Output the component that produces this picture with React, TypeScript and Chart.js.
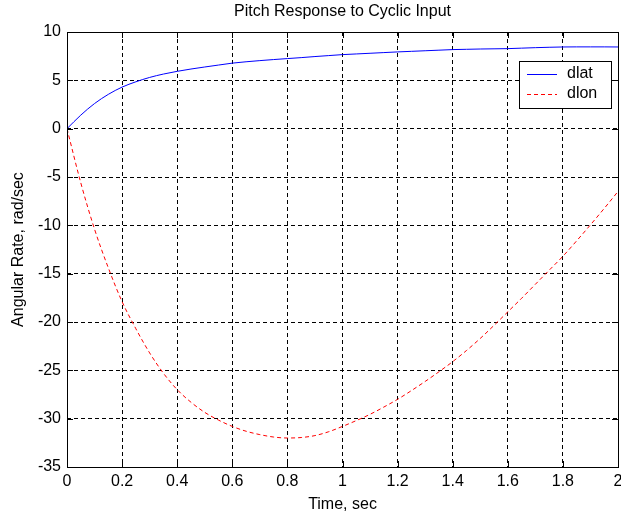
import { useEffect, useRef } from 'react';
import { Chart, registerables } from 'chart.js';

Chart.register(...registerables);

// Time samples (sec)
const timeSec = [
  0, 0.05, 0.1, 0.15, 0.2, 0.25, 0.3, 0.35, 0.4, 0.45, 0.5, 0.55, 0.6, 0.65, 0.7, 0.75, 0.8,
  0.85, 0.9, 0.95, 1.0, 1.05, 1.1, 1.15, 1.2, 1.25, 1.3, 1.35, 1.4, 1.45, 1.5, 1.55, 1.6,
  1.65, 1.7, 1.75, 1.8, 1.85, 1.9, 1.95, 2.0,
];

// Pitch rate response to lateral cyclic input (rad/sec)
const dlatRate = [
  0, 1.4, 2.6, 3.55, 4.3, 4.85, 5.3, 5.65, 5.93, 6.17, 6.38, 6.58, 6.78, 6.92, 7.04, 7.15, 7.25,
  7.35, 7.46, 7.56, 7.66, 7.73, 7.8, 7.87, 7.94, 8.0, 8.06, 8.12, 8.18, 8.21, 8.24, 8.26, 8.28,
  8.33, 8.38, 8.42, 8.45, 8.46, 8.46, 8.46, 8.45,
];

// Pitch rate response to longitudinal cyclic input (rad/sec)
const dlonRate = [
  0, -5.6, -10.4, -14.4, -17.9, -20.7, -23.2, -25.3, -27.0, -28.3, -29.35, -30.15, -30.8, -31.3,
  -31.65, -31.9, -32.0, -31.95, -31.75, -31.35, -30.8, -30.2, -29.55, -28.8, -28.0, -27.1, -26.15,
  -25.15, -24.1, -22.95, -21.7, -20.35, -18.95, -17.55, -16.1, -14.65, -13.2, -11.6, -9.95, -8.25,
  -6.5,
];

const seriesNames = ['dlat', 'dlon'];

const xTickValues = [0, 0.2, 0.4, 0.6, 0.8, 1, 1.2, 1.4, 1.6, 1.8, 2];
const xTickLabels = ['0', '0.2', '0.4', '0.6', '0.8', '1', '1.2', '1.4', '1.6', '1.8', '2'];
const yTickValues = [-35, -30, -25, -20, -15, -10, -5, 0, 5, 10];
const yTickLabels = ['-35', '-30', '-25', '-20', '-15', '-10', '-5', '0', '5', '10'];

const titleText = 'Pitch Response to Cyclic Input';
const xTitle = 'Time, sec';
const yTitle = 'Angular Rate, rad/sec';

const FONT = "'Liberation Sans', Arial, sans-serif";
const INK = '#000000';

const crisp = (v: number) => Math.round(v) + 0.5;

// Axes box, inward tick marks, title and legend
const framePlugin = {
  id: 'frame',
  afterDraw(chart: any) {
    const { ctx, chartArea } = chart;
    const { left, right, top, bottom } = chartArea;
    const xs = chart.scales.x;
    const ys = chart.scales.y;
    const tick = 6;

    ctx.save();
    ctx.strokeStyle = INK;
    ctx.lineWidth = 1;
    ctx.setLineDash([]);

    ctx.beginPath();
    for (const v of xTickValues) {
      const px = crisp(xs.getPixelForValue(v));
      ctx.moveTo(px, bottom);
      ctx.lineTo(px, bottom - tick);
      ctx.moveTo(px, top);
      ctx.lineTo(px, top + tick);
    }
    for (const v of yTickValues) {
      const py = crisp(ys.getPixelForValue(v));
      ctx.moveTo(left, py);
      ctx.lineTo(left + tick, py);
      ctx.moveTo(right, py);
      ctx.lineTo(right - tick, py);
    }
    ctx.stroke();

    ctx.strokeRect(crisp(left), crisp(top), Math.round(right) - Math.round(left), Math.round(bottom) - Math.round(top));

    // title
    ctx.fillStyle = INK;
    ctx.font = `16px ${FONT}`;
    ctx.textAlign = 'center';
    ctx.textBaseline = 'middle';
    ctx.fillText(titleText, (left + right) / 2, top - 20);

    // legend
    const bx = Math.round(right) - 99;
    const by = Math.round(top) + 29;
    const bw = 92;
    const bh = 47;
    ctx.fillStyle = '#ffffff';
    ctx.fillRect(bx, by, bw, bh);
    ctx.strokeStyle = INK;
    ctx.strokeRect(bx + 0.5, by + 0.5, bw, bh);

    chart.data.datasets.forEach((ds: any, i: number) => {
      const ly = by + 13 + i * 20;
      ctx.save();
      ctx.strokeStyle = ds.borderColor;
      ctx.lineWidth = 1;
      ctx.setLineDash(ds.borderDash || []);
      ctx.beginPath();
      ctx.moveTo(bx + 8, ly + 0.5);
      ctx.lineTo(bx + 38, ly + 0.5);
      ctx.stroke();
      ctx.restore();
      ctx.fillStyle = INK;
      ctx.textAlign = 'left';
      ctx.textBaseline = 'middle';
      ctx.fillText(ds.label, bx + 48, ly);
    });

    ctx.restore();
  },
};

const whiteBackground = {
  id: 'whiteBackground',
  beforeDraw(chart: any) {
    const { ctx, width, height } = chart;
    ctx.save();
    ctx.fillStyle = '#ffffff';
    ctx.fillRect(0, 0, width, height);
    ctx.restore();
  },
};

export default function App() {
  const canvasRef = useRef<HTMLCanvasElement | null>(null);

  useEffect(() => {
    const canvas = canvasRef.current;
    if (!canvas) return;

    const chart = new Chart(canvas, {
      type: 'line',
      data: {
        datasets: [
          {
            label: seriesNames[0],
            data: timeSec.map((t, i) => ({ x: t, y: dlatRate[i] })),
            borderColor: '#0000ff',
            borderWidth: 1,
            pointRadius: 0,
            cubicInterpolationMode: 'monotone',
            fill: false,
          },
          {
            label: seriesNames[1],
            data: timeSec.map((t, i) => ({ x: t, y: dlonRate[i] })),
            borderColor: '#ff0000',
            borderWidth: 1,
            borderDash: [4, 3],
            pointRadius: 0,
            cubicInterpolationMode: 'monotone',
            fill: false,
          },
        ],
      },
      options: {
        responsive: false,
        animation: false,
        events: [],
        layout: { padding: { top: 32, right: 3, left: 0, bottom: 0 } },
        font: { family: FONT, size: 16 },
        plugins: {
          legend: { display: false },
          title: { display: false },
          tooltip: { enabled: false },
        },
        scales: {
          x: {
            type: 'linear',
            min: 0,
            max: 2,
            afterBuildTicks: (scale: any) => {
              scale.ticks = xTickValues.map((v) => ({ value: v }));
            },
            afterFit: (scale: any) => {
              scale.height = 47;
              scale.paddingLeft = 0;
              scale.paddingRight = 0;
            },
            ticks: {
              autoSkip: false,
              maxRotation: 0,
              padding: 5,
              color: INK,
              font: { family: FONT, size: 16 },
              callback: (v: any) => {
                const i = xTickValues.findIndex((t) => Math.abs(t - Number(v)) < 1e-9);
                return i >= 0 ? xTickLabels[i] : '';
              },
            },
            grid: { color: INK, lineWidth: 1, drawTicks: false },
            border: { display: false, dash: [4, 3] },
            title: {
              display: true,
              text: xTitle,
              color: INK,
              font: { family: FONT, size: 16 },
              padding: { top: 0, bottom: 0 },
            },
          },
          y: {
            type: 'linear',
            min: -35,
            max: 10,
            afterBuildTicks: (scale: any) => {
              scale.ticks = yTickValues.map((v) => ({ value: v }));
            },
            afterFit: (scale: any) => {
              scale.width = 67;
              scale.paddingTop = 0;
              scale.paddingBottom = 0;
            },
            ticks: {
              autoSkip: false,
              padding: 6,
              color: INK,
              font: { family: FONT, size: 16 },
              callback: (v: any) => {
                const i = yTickValues.findIndex((t) => Math.abs(t - Number(v)) < 1e-9);
                return i >= 0 ? yTickLabels[i] : '';
              },
            },
            grid: { color: INK, lineWidth: 1, drawTicks: false },
            border: { display: false, dash: [4, 3] },
            title: {
              display: true,
              text: yTitle,
              color: INK,
              font: { family: FONT, size: 16 },
              padding: { top: 9, bottom: 0 },
            },
          },
        },
      },
      plugins: [whiteBackground, framePlugin],
    } as any);

    return () => chart.destroy();
  }, []);

  return (
    <div style={{ position: 'fixed', left: 0, top: 0, width: 621, height: 514, background: '#ffffff' }}>
      <canvas ref={canvasRef} width={621} height={514} style={{ display: 'block' }} />
    </div>
  );
}
